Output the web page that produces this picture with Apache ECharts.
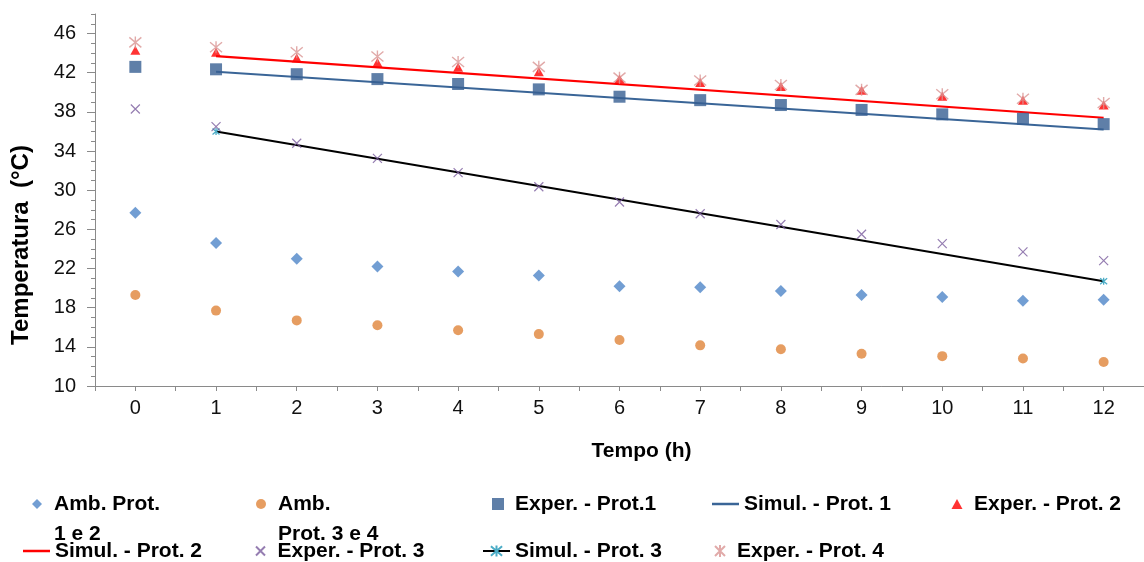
<!DOCTYPE html>
<html>
<head>
<meta charset="utf-8">
<script src="https://cdn.jsdelivr.net/npm/echarts@6/dist/echarts.min.js"></script>
<style>html,body{margin:0;padding:0;background:#fff}#c{width:1144px;height:562px}</style>
</head>
<body>
<div id="c"></div>
<script>
// ---- data ----
const hours = [0,1,2,3,4,5,6,7,8,9,10,11,12];
const yTicks = [10,14,18,22,26,30,34,38,42,46];
const ambProt12 = [27.7,24.6,23.0,22.2,21.7,21.3,20.2,20.1,19.7,19.3,19.1,18.7,18.8];
const ambProt34 = [19.3,17.7,16.7,16.2,15.7,15.3,14.7,14.15,13.75,13.3,13.05,12.8,12.45];
const experProt1 = [42.6,42.35,41.85,41.35,40.85,40.3,39.55,39.2,38.7,38.2,37.75,37.3,36.75];
const experProt2 = [44.3,44.1,43.5,43.05,42.55,42.1,41.35,41.0,40.6,40.2,39.6,39.2,38.7];
const experProt3 = [38.3,36.5,34.8,33.25,31.8,30.35,28.8,27.6,26.5,25.5,24.55,23.7,22.8];
const experProt4 = [45.1,44.6,44.1,43.65,43.1,42.6,41.5,41.2,40.75,40.25,39.8,39.35,38.9];
const simHours = [1,12];
const simProt1 = [42.1,36.2];
const simProt2 = [43.7,37.4];
const simProt3 = [36.0,20.7];
const names = ['Amb. Prot.\n1 e 2','Amb.\nProt. 3 e 4','Exper. - Prot.1','Simul. - Prot. 1','Exper. - Prot. 2',
               'Simul. - Prot. 2','Exper. - Prot. 3','Simul. - Prot. 3','Exper. - Prot. 4'];

const pairs = (xs, ys) => xs.map((x, i) => [x, ys[i]]);
const FONT = "'Liberation Sans', Arial, sans-serif";
const X_PATH = 'path://M0,0L10,10M10,0L0,10';
const STAR_PATH = 'path://M0,0L10,10M10,0L0,10M5,-1L5,11';
// legend icons drawn inside a 24-wide box (invisible moveTo corners fix the box)
const ICON_DIAMOND = 'path://M0,0M24,10M12,0L17,5L12,10L7,5Z';
const ICON_SQUARE = 'path://M0,0M24,12M6,0L18,0L18,12L6,12Z';
const ICON_TRIANGLE = 'path://M0,0M24,10M12,0L17.5,10L6.5,10Z';

const chart = echarts.init(document.getElementById('c'), null, {renderer:'canvas'});

function leg(item, left, top, w, h, extra) {
  return Object.assign({
    data: [item], left: left, top: top, padding: 0, itemWidth: w, itemHeight: h,
    selectedMode: false, symbolKeepAspect: true,
    textStyle: {fontFamily: FONT, fontSize: 21, fontWeight: 'bold', color: '#000', lineHeight: 30}
  }, extra || {});
}
const twoLine = {formatter: function (n) { return '\n' + n; }};

const option = {
  animation: false,
  backgroundColor: '#fff',
  textStyle: {fontFamily: FONT},
  grid: {left: 95, top: 14, width: 1056, bottom: 176, containLabel: false},
  legend: [
    leg({name: names[0], icon: ICON_DIAMOND}, 25, 459, 24, 10, twoLine),
    leg(names[1], 256, 459, 24, 10, twoLine),
    leg({name: names[2], icon: ICON_SQUARE}, 486, 489, 24, 12),
    leg({name: names[3], icon: 'rect'}, 712, 489, 27, 2.5),
    leg({name: names[4], icon: ICON_TRIANGLE}, 945, 489, 24, 10),
    leg({name: names[5], icon: 'rect'}, 23, 536, 27, 2.5),
    leg(names[6], 255, 536, 24, 9),
    leg(names[7], 482, 536, 27, 14),
    leg(names[8], 714, 536, 24, 12)
  ],
  xAxis: {
    type: 'value', min: -0.5, max: 12.5, interval: 0.5,
    name: 'Tempo (h)', nameLocation: 'middle', nameGap: 55,
    nameTextStyle: {fontFamily: FONT, fontSize: 21, fontWeight: 'bold', color: '#000', padding: [0,0,0,44]},
    axisLine: {onZero: false, lineStyle: {color: '#8a8a8a', width: 1}},
    axisTick: {show: true, length: 5, lineStyle: {color: '#8a8a8a'}},
    axisLabel: {customValues: hours, fontSize: 20, color: '#111', margin: 12, fontFamily: FONT},
    splitLine: {show: false}
  },
  yAxis: [{
    type: 'value', min: 10, max: 48, interval: 1, position: 'left',
    name: 'Temperatura  (°C)', nameLocation: 'middle', nameGap: 62, nameRotate: 90,
    nameTextStyle: {fontFamily: FONT, fontSize: 24, fontWeight: 'bold', color: '#000', padding: [0, 90, 0, 0]},
    axisLine: {show: true, onZero: false, lineStyle: {color: '#8a8a8a', width: 1}},
    axisTick: {show: true, customValues: yTicks, length: 8, lineStyle: {color: '#8a8a8a'}},
    axisLabel: {customValues: yTicks, fontSize: 20, color: '#111', margin: 19, fontFamily: FONT},
    splitLine: {show: false}
  }, {
    type: 'value', min: 10, max: 48, interval: 1, position: 'left',
    axisLine: {show: false, onZero: false},
    axisTick: {show: true, length: 4, lineStyle: {color: '#8a8a8a'}},
    axisLabel: {show: false},
    splitLine: {show: false}
  }],
  series: [
    {name: names[0], type: 'scatter', data: pairs(hours, ambProt12), symbol: 'diamond', symbolSize: 12,
     itemStyle: {color: '#4F86C8'}, z: 3},
    {name: names[1], type: 'scatter', data: pairs(hours, ambProt34), symbol: 'circle', symbolSize: 10,
     itemStyle: {color: '#E0853A'}, z: 3},
    {name: names[2], type: 'scatter', data: pairs(hours, experProt1), symbol: 'rect', symbolSize: 12,
     itemStyle: {color: '#375F92'}, z: 3},
    {name: names[3], type: 'line', data: pairs(simHours, simProt1), symbol: 'none',
     lineStyle: {color: '#3A6597', width: 2.2}, itemStyle: {color: '#3A6597'}, z: 2},
    {name: names[4], type: 'scatter', data: pairs(hours, experProt2), symbol: 'triangle', symbolSize: [10, 9],
     itemStyle: {color: '#FF0000'}, z: 4},
    {name: names[5], type: 'line', data: pairs(simHours, simProt2), symbol: 'none',
     lineStyle: {color: '#FF0000', width: 2.2}, itemStyle: {color: '#FF0000'}, z: 2},
    {name: names[6], type: 'scatter', data: pairs(hours, experProt3), symbol: X_PATH, symbolSize: 9,
     itemStyle: {color: 'rgba(0,0,0,0)', borderColor: '#7A5C9E', borderWidth: 1.2}, z: 5},
    {name: names[7], type: 'line', data: pairs(simHours, simProt3), symbol: STAR_PATH, symbolSize: 7,
     showSymbol: true,
     lineStyle: {color: '#000000', width: 2.2}, itemStyle: {color: 'rgba(0,0,0,0)', borderColor: '#4BACC6', borderWidth: 1.3}, z: 2},
    {name: names[8], type: 'scatter', data: pairs(hours, experProt4), symbol: STAR_PATH, symbolSize: 12,
     itemStyle: {color: 'rgba(0,0,0,0)', borderColor: '#D99594', borderWidth: 1.4}, z: 6}
  ]
};
chart.setOption(option);
</script>
</body>
</html>
